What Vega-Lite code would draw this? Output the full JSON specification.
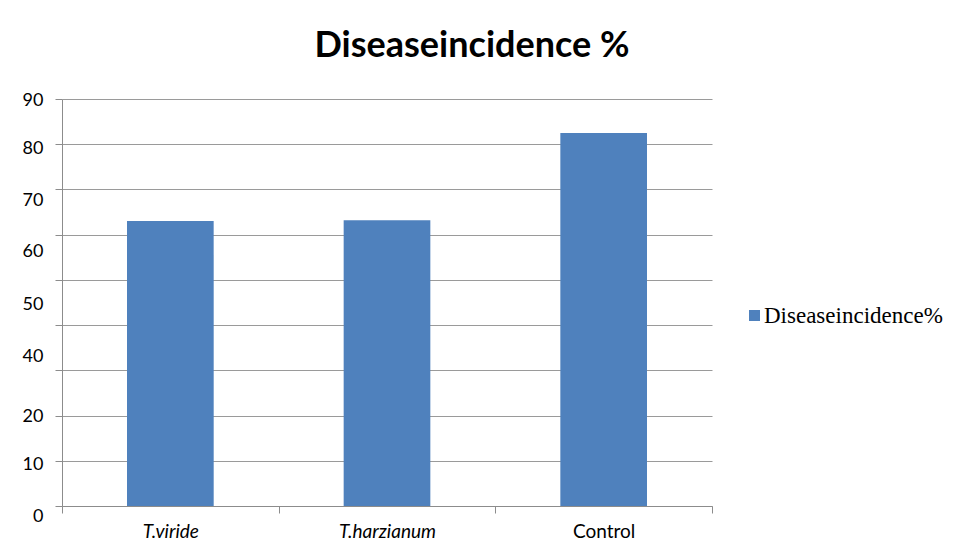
{
  "$schema": "https://vega.github.io/schema/vega-lite/v6.json",
  "width": 650,
  "height": 407,
  "autosize": {"type": "none"},
  "padding": {"left": 62, "top": 99, "right": 247, "bottom": 47},
  "background": "white",
  "title": {
    "text": "Diseaseincidence %",
    "font": "Lato",
    "fontSize": 36,
    "fontWeight": "bold",
    "color": "#000000",
    "anchor": "middle",
    "frame": "group",
    "dx": 85,
    "offset": -2,
    "baseline": "alphabetic"
  },
  "data": {
    "values": [
      {"treatment": "T.viride", "incidence": 63.0, "series": "Diseaseincidence%"},
      {"treatment": "T.harzianum", "incidence": 63.2, "series": "Diseaseincidence%"},
      {"treatment": "Control", "incidence": 82.5, "series": "Diseaseincidence%"}
    ]
  },
  "mark": {"type": "bar", "width": {"band": 0.4}},
  "encoding": {
    "x": {
      "field": "treatment",
      "type": "nominal",
      "sort": null,
      "scale": {"paddingInner": 0, "paddingOuter": 0},
      "axis": {
        "title": null,
        "labelAngle": 0,
        "tickBand": "extent",
        "tickSize": 7,
        "tickColor": "#8c8c8c",
        "domainColor": "#8c8c8c",
        "labelFont": "Lato",
        "labelFontSize": 19,
        "labelColor": "#000000",
        "labelPadding": 9,
        "labelFontStyle": {"condition": {"test": "datum.value == 'Control'", "value": "normal"}, "value": "italic"},
        "grid": false
      }
    },
    "y": {
      "field": "incidence",
      "type": "quantitative",
      "scale": {"domain": [0, 90], "nice": false},
      "axis": {
        "title": null,
        "values": [0, 10, 20, 30, 40, 50, 60, 70, 80, 90],
        "labelExpr": "datum.value == 30 ? '40' : (datum.value == 40 ? '' : datum.label)",
        "labelOffset": {
          "condition": [
            {"test": "datum.value == 80", "value": 4},
            {"test": "datum.value == 70", "value": 11},
            {"test": "datum.value == 60", "value": 17},
            {"test": "datum.value == 50", "value": 25},
            {"test": "datum.value == 30", "value": -14},
            {"test": "datum.value == 10", "value": 4},
            {"test": "datum.value == 0", "value": 10}
          ],
          "value": 1
        },
        "tickSize": 7,
        "tickColor": "#8c8c8c",
        "domainColor": "#8c8c8c",
        "gridColor": "#9a9a9a",
        "gridWidth": 1,
        "labelFont": "Lato",
        "labelFontSize": 18,
        "labelColor": "#000000",
        "labelPadding": 12
      }
    },
    "color": {
      "field": "series",
      "type": "nominal",
      "scale": {"range": ["#4F81BD"]},
      "legend": {
        "title": null,
        "orient": "none",
        "legendX": 681,
        "legendY": 205,
        "padding": 0,
        "symbolType": "square",
        "symbolSize": 121,
        "symbolStrokeWidth": 0,
        "labelFont": "Liberation Serif",
        "labelFontSize": 23,
        "labelColor": "#000000",
        "labelOffset": -2,
        "labelLimit": 400
      }
    }
  },
  "config": {
    "view": {"stroke": null}
  }
}
